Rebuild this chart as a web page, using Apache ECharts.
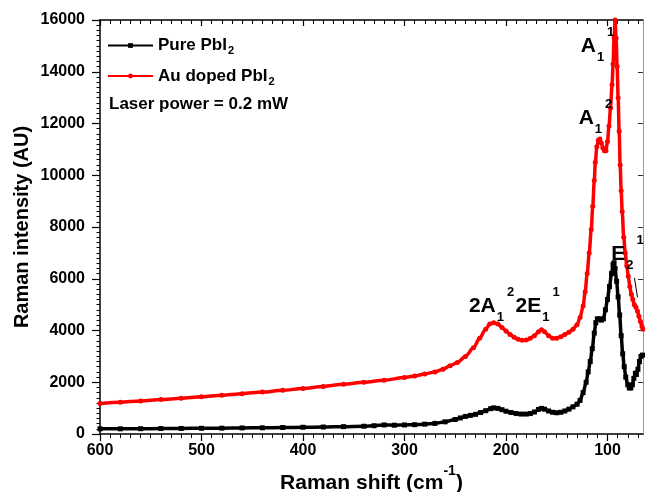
<!DOCTYPE html>
<html>
<head>
<meta charset="utf-8">
<script src="https://cdn.jsdelivr.net/npm/echarts@6/dist/echarts.min.js"></script>
<style>html,body{margin:0;padding:0;background:#fff}#c{width:645px;height:492px}</style>
</head>
<body>
<div id="c"></div>
<script>
// Raman shift (cm-1) and intensities (AU)
const pureX = [600,580,560,540,520,500,480,460,440,420,400,380,360,340,330,320,310,300,290,280,270,260,250,245,240,235,230,225,220,215,212,208,204,200,195,190,185,180,176,172,168,165,162,158,154,150,146,142,138,134,130,127,124,121,119,117,115,113,111.5,110,108,106,104,102,100,98,96,94.5,93.5,92.5,91,89.5,88,86.5,85,83.5,82,80,78.5,77,75.5,74,72.5,71.5,70,68.5,67,65.5];
const pureY = [200,200,205,210,215,220,225,235,240,250,260,270,285,300,320,350,340,350,360,380,410,470,560,620,680,720,760,830,900,980,1010,990,940,880,830,790,770,770,790,850,950,990,960,890,840,820,840,890,960,1050,1150,1300,1600,2000,2400,2800,3300,3900,4300,4450,4450,4400,4450,4800,5200,5700,6200,6550,6620,6400,5900,5300,4600,3800,3100,2600,2200,1900,1780,1780,1900,2150,2350,2300,2500,2800,3000,3050];
const auX = [600,580,560,540,520,500,480,460,440,420,400,380,360,340,320,300,290,280,270,262,255,248,240,232,226,220,216,212,208,204,200,196,192,188,184,180,176,172,168,165,162,158,154,150,146,142,138,134,130,127,124,122,120,118,116,114.5,113,112,110.5,109,107.5,106,104.5,103,101.5,100,98.5,97,95.5,94.5,93.5,92.5,91.5,90.5,89.5,88.5,87.5,86.5,85.5,84,82.5,81,79.5,78,76.5,75,73.5,72,70.5,69,67.5,66,65];
const auY = [1180,1230,1280,1330,1380,1440,1500,1560,1620,1690,1760,1840,1920,2000,2080,2180,2240,2320,2400,2500,2640,2760,3000,3330,3700,4050,4250,4300,4250,4120,3980,3850,3740,3660,3620,3630,3700,3800,3950,4030,3950,3800,3700,3700,3760,3850,3930,4050,4220,4500,4950,5500,6200,7000,7900,8800,9800,10500,11100,11350,11400,11250,11050,10950,10950,11300,11900,12600,13500,14300,15300,16000,15300,14200,13000,11700,10400,9400,8600,7600,7000,6500,6100,5700,5400,5200,5000,4900,4750,4550,4350,4150,4050];
const seriesNames = ['Pure PbI2', 'Au doped PbI2'];
const xTicks = [600,500,400,300,200,100];
const xRange = [65, 600];
const yRange = [0, 16000];
const yStep = 2000;
const noteText = 'Laser power = 0.2 mW';

const xMinor = [];
for (let v = 600; v >= 70; v -= 10) if (v % 100 !== 0) xMinor.push(v);

const FONT = 'Liberation Sans';
const toPairs = (xs, ys) => xs.map((x, i) => [x, ys[i]]);

const peakRich = {
  a: {fontFamily: FONT, fontWeight: 'bold', fontSize: 21, color: '#000', lineHeight: 40, verticalAlign: 'middle'},
  sub: {fontFamily: FONT, fontWeight: 'bold', fontSize: 13, color: '#000', verticalAlign: 'bottom', lineHeight: 13, padding: [0, 0, 2, 1]},
  sup: {fontFamily: FONT, fontWeight: 'bold', fontSize: 13, color: '#000', verticalAlign: 'top', lineHeight: 13, padding: [0, 0, 0, 3]}
};
const peak = (x, y, text) => ({coord: [x, y], symbol: 'circle', symbolSize: 0,
  label: {show: true, position: 'inside', formatter: text, rich: peakRich}});

const hiddenLabel = {show: false};

const baseX = {
  type: 'value', gridIndex: 0, min: xRange[0], max: xRange[1], inverse: true,
  splitLine: {show: false}
};

const option = {
  backgroundColor: '#fff',
  animation: false,
  grid: {left: 100, right: 2, top: 20, bottom: 58, containLabel: false, outerBoundsMode: 'none'},
  title: {text: noteText, left: 104, top: 91,
    textStyle: {fontFamily: FONT, fontWeight: 'bold', fontSize: 17, color: '#000'}},
  legend: {
    data: seriesNames, orient: 'vertical', left: 102, top: 32, itemGap: 11,
    itemWidth: 45, itemHeight: 6,
    lineStyle: {width: 2},
    formatter: n => '{t|' + n.slice(0, -1) + '}{s|' + n.slice(-1) + '}',
    textStyle: {rich: {
      t: {fontFamily: FONT, fontWeight: 'bold', fontSize: 17, color: '#000', lineHeight: 22, verticalAlign: 'middle'},
      s: {fontFamily: FONT, fontWeight: 'bold', fontSize: 11, color: '#000', verticalAlign: 'bottom', lineHeight: 11, padding: [0,0,0,1]}
    }}
  },
  xAxis: [
    Object.assign({}, baseX, {
      position: 'bottom',
      name: '{t|Raman shift (cm}{s|-1}{t|)}', nameLocation: 'middle', nameGap: 29,
      nameTextStyle: {rich: {
        t: {fontFamily: FONT, fontWeight: 'bold', fontSize: 21, color: '#000', lineHeight: 30, verticalAlign: 'bottom'},
        s: {fontFamily: FONT, fontWeight: 'bold', fontSize: 14, color: '#000', verticalAlign: 'top', lineHeight: 14}
      }},
      axisLine: {show: true, onZero: false, lineStyle: {color: '#000', width: 1.5}},
      axisTick: {show: true, inside: false, length: 7, customValues: xTicks, lineStyle: {color: '#000', width: 1.2}},
      axisLabel: {show: true, customValues: xTicks, margin: 9, fontFamily: FONT, fontWeight: 'bold', fontSize: 16, color: '#000'}
    }),
    Object.assign({}, baseX, {
      position: 'bottom',
      axisLine: {show: false, onZero: false},
      axisTick: {show: true, inside: false, length: 4, customValues: xMinor, lineStyle: {color: '#000', width: 1}},
      axisLabel: hiddenLabel
    }),
    Object.assign({}, baseX, {
      position: 'top',
      axisLine: {show: true, onZero: false, lineStyle: {color: '#000', width: 1.5}},
      axisTick: {show: true, inside: true, length: 6, customValues: xTicks, lineStyle: {color: '#000', width: 1.2}},
      axisLabel: hiddenLabel
    }),
    Object.assign({}, baseX, {
      position: 'top',
      axisLine: {show: false, onZero: false},
      axisTick: {show: true, inside: true, length: 4, customValues: xMinor, lineStyle: {color: '#000', width: 1}},
      axisLabel: hiddenLabel
    })
  ],
  yAxis: [
    {
      type: 'value', min: yRange[0], max: yRange[1], interval: yStep, position: 'left',
      name: 'Raman intensity (AU)', nameLocation: 'middle', nameGap: 68, nameMoveOverlap: false,
      nameTextStyle: {fontFamily: FONT, fontWeight: 'bold', fontSize: 20, color: '#000'},
      axisLine: {show: true, onZero: false, lineStyle: {color: '#000', width: 1.5}},
      axisTick: {show: true, inside: false, length: 8, lineStyle: {color: '#000', width: 1.2}},
      minorTick: {show: true, splitNumber: 10, length: 3.5, lineStyle: {color: '#000', width: 1}},
      axisLabel: {margin: 15, formatter: v => String(v), fontFamily: FONT, fontWeight: 'bold', fontSize: 16, color: '#000'},
      splitLine: {show: false}
    },
    {
      type: 'value', min: yRange[0], max: yRange[1], interval: yStep, position: 'right',
      axisLine: {show: true, onZero: false, lineStyle: {color: '#888', width: 1, type: 'dotted'}},
      axisTick: {show: true, inside: true, length: 5, lineStyle: {color: '#333', width: 1}},
      axisLabel: hiddenLabel,
      splitLine: {show: false}
    }
  ],
  series: [
    {
      name: seriesNames[0], type: 'line', xAxisIndex: 0, yAxisIndex: 0,
      data: toPairs(pureX, pureY), smooth: 0.3, smoothMonotone: 'x',
      symbol: 'rect', symbolSize: 5, showSymbol: true,
      lineStyle: {color: '#000', width: 3.5}, itemStyle: {color: '#000'}
    },
    {
      name: seriesNames[1], type: 'line', xAxisIndex: 0, yAxisIndex: 0,
      data: toPairs(auX, auY), smooth: 0.3, smoothMonotone: 'x',
      symbol: 'circle', symbolSize: 5, showSymbol: true,
      lineStyle: {color: '#ff0000', width: 3.5}, itemStyle: {color: '#ff0000'},
      markPoint: {
        silent: true,
        data: [
          peak(109.8, 15000, '{a|A}{sub|1}{sup|1}'),
          peak(111.8, 12200, '{a|A}{sub|1}{sup|2}'),
          peak(214.2, 4950, '{a|2A}{sub|1}{sup|2}'),
          peak(168.9, 4950, '{a|2E}{sub|1}{sup|1}'),
          peak(80.3, 6950, '{a|E}{sub|2}{sup|1}')
        ]
      },
      markLine: {
        silent: true, symbol: ['none', 'arrow'], symbolSize: [0, 6],
        label: {show: false},
        lineStyle: {color: '#000', width: 1, type: 'solid'},
        data: [[{coord: [73.4, 6030]}, {coord: [70.4, 5280]}]]
      }
    },
    // empty helper series so the frame axes (top, right, minor ticks) are active
    {type: 'line', name: '_a', xAxisIndex: 1, yAxisIndex: 1, data: [], silent: true},
    {type: 'line', name: '_b', xAxisIndex: 2, yAxisIndex: 1, data: [], silent: true},
    {type: 'line', name: '_c', xAxisIndex: 3, yAxisIndex: 1, data: [], silent: true}
  ]
};

const chart = echarts.init(document.getElementById('c'), null, {renderer: 'canvas'});
chart.setOption(option);
</script>
</body>
</html>
